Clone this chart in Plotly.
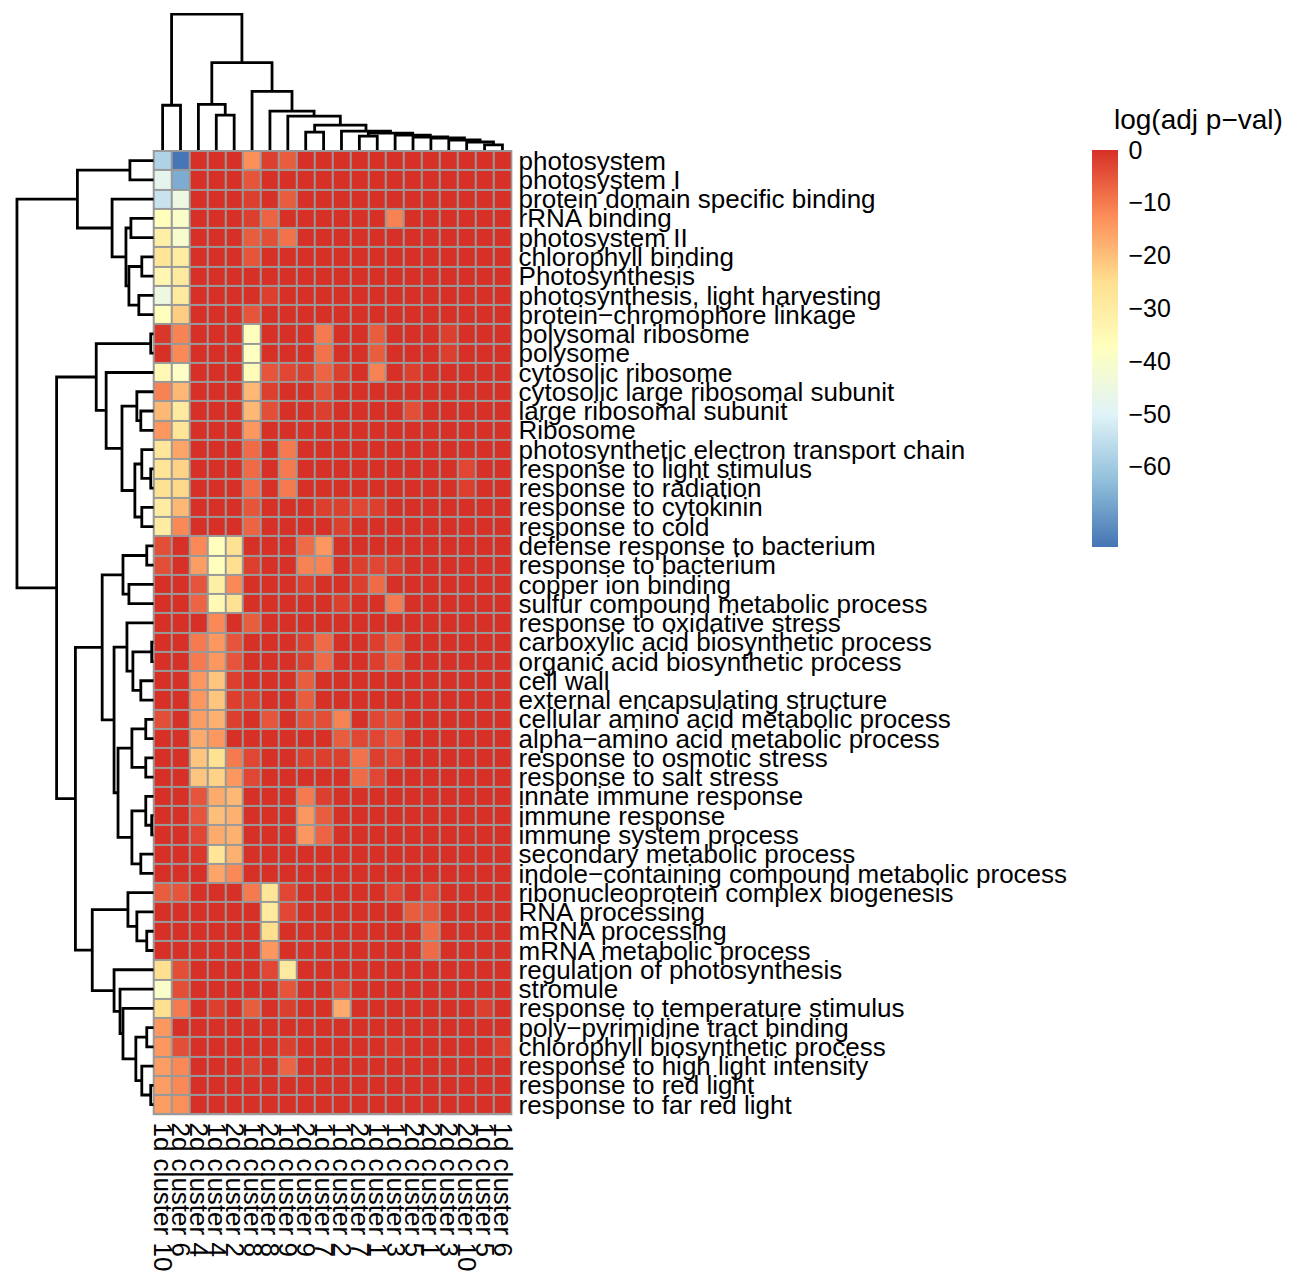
import plotly.graph_objects as go

W, H = 1305, 1272
OFF = 8  # the page body margin that the figure div sits inside

terms = [
    "photosystem", "photosystem I", "protein domain specific binding", "rRNA binding",
    "photosystem II", "chlorophyll binding", "Photosynthesis",
    "photosynthesis, light harvesting", "protein\u2212chromophore linkage",
    "polysomal ribosome", "polysome", "cytosolic ribosome",
    "cytosolic large ribosomal subunit", "large ribosomal subunit", "Ribosome",
    "photosynthetic electron transport chain", "response to light stimulus",
    "response to radiation", "response to cytokinin", "response to cold",
    "defense response to bacterium", "response to bacterium", "copper ion binding",
    "sulfur compound metabolic process", "response to oxidative stress",
    "carboxylic acid biosynthetic process", "organic acid biosynthetic process",
    "cell wall", "external encapsulating structure",
    "cellular amino acid metabolic process", "alpha\u2212amino acid metabolic process",
    "response to osmotic stress", "response to salt stress", "innate immune response",
    "immune response", "immune system process", "secondary metabolic process",
    "indole\u2212containing compound metabolic process",
    "ribonucleoprotein complex biogenesis", "RNA processing", "mRNA processing",
    "mRNA metabolic process", "regulation of photosynthesis", "stromule",
    "response to temperature stimulus", "poly\u2212pyrimidine tract binding",
    "chlorophyll biosynthetic process", "response to high light intensity",
    "response to red light", "response to far red light",
]

col_labels = [
    "1d cluster 10", "2d cluster 6", "2d cluster 4", "1d cluster 4", "2d cluster 2",
    "1d cluster 8", "2d cluster 8", "1d cluster 9", "2d cluster 9", "1d cluster 7",
    "1d cluster 2", "2d cluster 7", "1d cluster 1", "1d cluster 3", "2d cluster 5",
    "2d cluster 1", "2d cluster 3", "2d cluster 10", "1d cluster 5", "1d cluster 6",
]

# log(adj p-val), one list per GO term (row), 20 columns each
logp = [
    [-58, -75, 0, 0, 0, -13, -2, -6, 0, 0, 0, 0, 0, 0, 0, 0, 0, 0, 0, 0],
    [-48, -66, 0, 0, 0, -5, 0, 0, 0, 0, 0, 0, 0, 0, 0, 0, 0, 0, 0, 0],
    [-54, -45, 0, 0, 0, -2, 0, -6, 0, 0, 0, 0, 0, 0, 0, 0, 0, 0, 0, 0],
    [-37, -40, 0, 0, 0, -2, -7, 0, 0, 0, 0, 0, 0, -11, 0, 0, 0, 0, 0, 0],
    [-31, -41, 0, 0, 0, -6, -4, -9, 0, 0, 0, 0, 0, 0, 0, 0, 0, 0, 0, 0],
    [-27, -30, 0, 0, 0, -5, 0, 0, 0, 0, 0, 0, 0, 0, 0, 0, 0, 0, 0, 0],
    [-34, -29, 0, 0, 0, 0, 0, 0, 0, 0, 0, 0, 0, 0, 0, 0, 0, 0, 0, 0],
    [-45, -29, 0, 0, 0, 0, -2, 0, 0, 0, 0, 0, 0, 0, 0, 0, 0, 0, 0, 0],
    [-37, -22, 0, 0, 0, -5, 0, 0, 0, 0, 0, 0, 0, 0, 0, 0, 0, 0, 0, 0],
    [-1, -11, 0, 0, 0, -37, 0, 0, 0, -10, 0, 0, -6, 0, 0, 0, -2, 0, 0, 0],
    [0, -12, 0, 0, 0, -38, 0, 0, 0, -9, 0, 0, -6, 0, 0, 0, -2, 0, 0, 0],
    [-35, -39, 0, 0, 0, -36, -5, -3, -2, -7, -2, 0, -11, 0, -2, 0, 0, 0, 0, 0],
    [-11, -19, 0, 0, 0, -19, -2, 0, 0, -4, 0, 0, 0, 0, 0, 0, 0, 0, 0, 0],
    [-19, -29, 0, 0, 0, -19, -4, 0, 0, -2, 0, 0, 0, 0, -4, 0, 0, 0, 0, 0],
    [-14, -27, 0, 0, 0, -14, 0, 0, 0, 0, 0, 0, 0, 0, 0, 0, 0, 0, 0, 0],
    [-28, -16, 0, 0, 0, -8, 0, -10, 0, 0, 0, 0, 0, 0, 0, 0, 0, 0, 0, 0],
    [-27, -23, 0, 0, 0, -8, 0, -10, 0, 0, 0, 0, 0, 0, 0, 0, 0, -3, 0, 0],
    [-26, -24, 0, 0, 0, -8, 0, -10, 0, 0, 0, 0, 0, 0, 0, 0, 0, -2, 0, 0],
    [-30, -19, 0, 0, 0, -5, 0, 0, 0, -2, -2, -3, -2, 0, 0, 0, 0, 0, 0, 0],
    [-30, -12, 0, 0, 0, -7, 0, 0, 0, 0, -2, 0, 0, 0, 0, 0, 0, 0, 0, 0],
    [-4, 0, -12, -37, -26, 0, 0, 0, -8, -14, 0, 0, 0, 0, 0, 0, 0, 0, 0, 0],
    [-4, 0, -15, -37, -25, -2, 0, 0, -11, -11, 0, -2, -3, -2, 0, 0, 0, 0, 0, 0],
    [0, 0, -5, -31, -12, 0, 0, 0, -2, 0, 0, -2, -8, 0, 0, 0, 0, 0, 0, 0],
    [0, 0, -7, -35, -26, 0, 0, 0, 0, 0, -2, 0, 0, -10, 0, 0, 0, 0, 0, 0],
    [0, 0, 0, -12, 0, -6, 0, 0, 0, 0, 0, 0, 0, 0, 0, 0, 0, 0, 0, 0],
    [0, 0, -10, -14, -5, 0, 0, 0, -2, -8, 0, 0, -2, -6, 0, 0, 0, 0, 0, 0],
    [0, 0, -10, -14, -5, 0, 0, 0, -2, -8, 0, 0, -2, -6, 0, 0, 0, 0, 0, 0],
    [0, 0, -14, -21, -2, 0, 0, 0, -6, 0, 0, 0, 0, 0, 0, 0, 0, 0, 0, 0],
    [0, 0, -14, -21, -2, -2, 0, 0, -6, 0, 0, 0, 0, 0, 0, 0, 0, 0, 0, 0],
    [-4, 0, -15, -18, -2, 0, -5, 0, -4, -4, -11, 0, -3, -4, 0, 0, 0, 0, 0, 0],
    [0, 0, -17, -14, 0, 0, 0, 0, 0, 0, -6, -3, -3, -5, 0, 0, 0, 0, 0, 0],
    [0, 0, -21, -26, -10, -3, 0, 0, -2, -2, -2, -9, -2, -3, 0, 0, 0, 0, 0, 0],
    [0, 0, -21, -23, -14, -3, 0, 0, 0, 0, 0, -8, -3, 0, 0, 0, 0, 0, 0, 0],
    [0, 0, -5, -17, -19, 0, 0, 0, -10, -2, 0, 0, 0, 0, 0, 0, 0, 0, 0, 0],
    [0, 0, -5, -20, -18, 0, 0, 0, -14, -6, 0, 0, 0, 0, 0, 0, 0, 0, 0, 0],
    [0, 0, -3, -17, -18, 0, 0, 0, -14, -7, 0, 0, 0, 0, 0, 0, 0, 0, 0, 0],
    [0, 0, -1, -27, -18, 0, 0, 0, 0, 0, 0, 0, 0, 0, 0, 0, 0, 0, 0, 0],
    [0, 0, 0, -16, -12, 0, 0, 0, 0, 0, 0, 0, 0, 0, 0, 0, 0, 0, 0, 0],
    [-6, -5, 0, 0, 0, -10, -27, -3, 0, 0, 0, 0, 0, -3, 0, -3, 0, 0, 0, 0],
    [0, 0, 0, 0, 0, 0, -29, -3, 0, 0, 0, 0, 0, 0, -6, -5, 0, 0, 0, 0],
    [0, 0, 0, 0, 0, 0, -25, 0, 0, 0, 0, 0, 0, 0, 0, -8, 0, 0, 0, 0],
    [0, 0, 0, 0, 0, 0, -14, 0, 0, 0, 0, 0, 0, 0, 0, -8, 0, 0, 0, 0],
    [-25, -4, 0, 0, 0, 0, -3, -29, 0, 0, 0, 0, 0, 0, 0, 0, 0, 0, 0, 0],
    [-40, -4, 0, 0, 0, 0, 0, -5, 0, 0, -3, 0, 0, 0, 0, 0, 0, 0, 0, 0],
    [-25, -10, 0, -2, 0, -6, 0, -2, 0, 0, -17, 0, 0, 0, 0, 0, 0, 0, -2, 0],
    [-14, 0, 0, 0, 0, 0, 0, 0, 0, 0, 0, 0, 0, 0, 0, 0, 0, 0, 0, 0],
    [-14, -4, 0, 0, 0, 0, 0, -2, 0, 0, 0, 0, 0, -1, 0, 0, 0, 0, 0, -2],
    [-15, -12, 0, 0, 0, -2, 0, -7, 0, 0, 0, 0, 0, 0, 0, 0, 0, 0, 0, 0],
    [-15, -12, 0, 0, 0, 0, 0, 0, 0, 0, 0, 0, 0, 0, 0, 0, 0, 0, 0, 0],
    [-15, -13, 0, 0, 0, 0, 0, 0, 0, 0, 0, 0, 0, 0, 0, 0, 0, 0, 0, 0],
]

# Hierarchical clustering trees: (left, right, merge height); leaves = display index
row_tree = (
    ((0, 1, 24), (2, ((3, 4, 23), ((5, 6, 12), (7, 8, 15), 25), 28), 42), 77),
    (
        ((9, 10, 3), (11, ((12, (13, 14, 13), 17),
                            ((15, (16, 17, 3), 12), (18, 19, 12), 19), 32), 48), 58),
        (
            (((20, 21, 7), (22, 23, 25), 31),
             ((24, ((25, 26, 2), (27, 28, 13), 21), 27),
              (((29, 30, 8), (31, 32, 8), 22),
               ((33, (34, 35, 2), 8), (36, 37, 13), 22), 36), 40), 52),
            ((38, (39, (40, 41, 7), 17), 26),
             (42, (43, (44, ((45, 46, 7), (47, (48, 49, 3), 12), 18), 31), 34), 40), 62),
            79),
        98),
    138)

col_tree = (
    (0, 1, 45),
    ((2, (3, 4, 35), 46),
     (5, (6, (7, ((8, 9, 18),
                  (10, ((11, 12, 14),
                        (13, (14, (15, (16, (17, (18, 19, 5), 8), 10), 12), 13), 15), 17), 19),
                  25), 34), 39), 59), 88),
    137)


def dendro_segments(tree):
    pos, hgt = [], []

    def walk(node):
        if isinstance(node, int):
            return float(node), 0.0
        left, right, h = node
        pl, hl = walk(left)
        pr, hr = walk(right)
        pos.extend([pl, pl, pr, pr, None])
        hgt.extend([hl, h, h, hr, None])
        return (pl + pr) / 2.0, h

    walk(tree)
    return pos, hgt


# layout geometry, in page pixels
HX0, HX1 = 150, 511
HY0, HY1 = 147, 1118


def px_x(v):
    return (v - OFF) / W


def px_y(v):
    return 1 - (v - OFF) / H


colorscale = [
    [0.0, "#4575B4"], [1 / 6, "#91BFDB"], [2 / 6, "#E0F3F8"], [3 / 6, "#FFFFBF"],
    [4 / 6, "#FEE090"], [5 / 6, "#FC8D59"], [1.0, "#D73027"],
]

zmin = min(min(r) for r in logp) - 0.2
zmax = max(max(r) for r in logp)

FONT = "Liberation Sans, Arial, Helvetica, sans-serif"

fig = go.Figure()

fig.add_trace(go.Heatmap(
    z=logp, x=list(range(len(col_labels))), y=list(range(len(terms))),
    colorscale=colorscale, zmin=zmin, zmax=zmax, xgap=2, ygap=2,
    xaxis="x", yaxis="y", hoverinfo="skip",
    colorbar=dict(
        x=px_x(1097), xanchor="left", y=px_y(146), yanchor="top",
        len=397, lenmode="pixels", thickness=26, thicknessmode="pixels",
        xpad=0, ypad=0, outlinewidth=0,
        tickvals=[0, -10, -20, -30, -40, -50, -60],
        ticktext=["0", "\u221210", "\u221220", "\u221230", "\u221240", "\u221250", "\u221260"],
        ticks="outside", ticklen=6, tickcolor="rgba(0,0,0,0)",
        tickfont=dict(family=FONT, size=25, color="black"),
    ),
))

rp, rh = dendro_segments(row_tree)
fig.add_trace(go.Scatter(x=rh, y=rp, mode="lines", xaxis="x2", yaxis="y2",
                         line=dict(color="black", width=2.8), hoverinfo="skip",
                         showlegend=False, cliponaxis=False))

cp, ch = dendro_segments(col_tree)
fig.add_trace(go.Scatter(x=cp, y=ch, mode="lines", xaxis="x3", yaxis="y3",
                         line=dict(color="black", width=2.8), hoverinfo="skip",
                         showlegend=False, cliponaxis=False))

nr, nc = len(terms), len(col_labels)
fig.update_layout(
    width=W, height=H, margin=dict(l=0, r=0, t=0, b=0),
    paper_bgcolor="white", plot_bgcolor="rgba(0,0,0,0)",
    font=dict(family=FONT, color="black"),
    showlegend=False,
    xaxis=dict(domain=[px_x(HX0), px_x(HX1)], range=[-0.5, nc - 0.5], anchor="y",
               tickvals=list(range(nc)), ticktext=col_labels, tickangle=90,
               tickfont=dict(size=26, family=FONT, color="black"),
               ticks="outside", ticklen=2, tickcolor="rgba(0,0,0,0)",
               showgrid=False, zeroline=False, showline=False, fixedrange=True),
    yaxis=dict(domain=[px_y(HY1), px_y(HY0)], range=[nr - 0.5, -0.5], anchor="x",
               side="right", tickvals=list(range(nr)), ticktext=terms,
               tickfont=dict(size=26, family=FONT, color="black"),
               ticks="outside", ticklen=1, tickcolor="rgba(0,0,0,0)",
               showgrid=False, zeroline=False, showline=False, fixedrange=True),
    xaxis2=dict(domain=[0, px_x(HX0)], range=[HX0 - OFF, 0], anchor="y2", visible=False),
    yaxis2=dict(domain=[px_y(HY1), px_y(HY0)], range=[nr - 0.5, -0.5], anchor="x2",
                visible=False),
    xaxis3=dict(domain=[px_x(HX0), px_x(HX1)], range=[-0.5, nc - 0.5], anchor="y3",
                visible=False),
    yaxis3=dict(domain=[px_y(HY0 - 1), 1], range=[0, HY0 - 1 - OFF], anchor="x3",
                visible=False),
    shapes=[dict(type="rect", xref="paper", yref="paper", layer="below",
                 x0=px_x(HX0 - 1), x1=px_x(HX1 + 1), y0=px_y(HY1 + 1), y1=px_y(HY0 - 1),
                 fillcolor="#999999", line=dict(width=0))],
    annotations=[dict(text="log(adj p\u2212val)", xref="paper", yref="paper",
                      x=px_x(1117), y=px_y(115), xanchor="left", yanchor="middle",
                      showarrow=False, font=dict(family=FONT, size=28, color="black"))],
)

fig.write_html("out.html")
